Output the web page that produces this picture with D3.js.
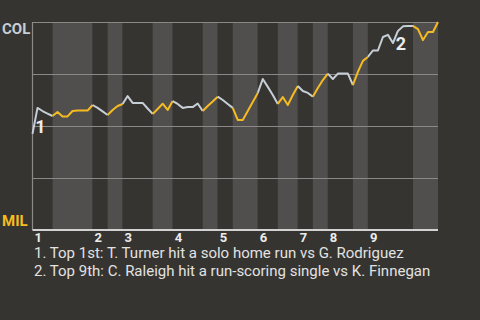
<!DOCTYPE html>
<html>
<head>
<meta charset="utf-8">
<script src="https://cdn.jsdelivr.net/npm/d3@7"></script>
<style>
  body { margin: 0; background: #363430; }
  svg { display: block; font-family: Roboto, sans-serif; }
</style>
</head>
<body>
<div id="chart"></div>
<script>
// plate appearances per half inning (top 1st, bottom 1st, ...)
const halfInningPAs = [4, 8, 3, 3, 6, 4, 6, 3, 3, 5, 4, 4, 3, 3, 5, 3, 9, 5];
const innings = ["1", "2", "3", "4", "5", "6", "7", "8", "9"];
// COL win probability after each plate appearance
const winProb = [
  0.462, 0.587, 0.572, 0.560, 0.548, 0.567, 0.546, 0.546, 0.572, 0.574,
  0.574, 0.574, 0.601, 0.587, 0.570, 0.553, 0.577, 0.596, 0.606, 0.644,
  0.611, 0.611, 0.611, 0.584, 0.558, 0.582, 0.607, 0.577, 0.620, 0.606,
  0.587, 0.591, 0.591, 0.608, 0.572, 0.596, 0.618, 0.641, 0.625, 0.606,
  0.587, 0.529, 0.529, 0.572, 0.615, 0.659, 0.726, 0.688, 0.649, 0.606,
  0.639, 0.601, 0.649, 0.692, 0.668, 0.659, 0.641, 0.683, 0.721, 0.752,
  0.726, 0.752, 0.752, 0.752, 0.697, 0.760, 0.813, 0.832, 0.863, 0.863,
  0.928, 0.938, 0.899, 0.957, 0.979, 0.981, 0.981, 0.966, 0.913, 0.952,
  0.952, 1.0
];
const teams = ["COL", "MIL"];
const eventIdx = [1, 70];
const eventLabels = ["1", "2"];
const notes = [
  "1. Top 1st: T. Turner hit a solo home run vs G. Rodriguez",
  "2. Top 9th: C. Raleigh hit a run-scoring single vs K. Finnegan"
];

const w = 480, h = 320;
const margin = ({ top: 22, right: 42, bottom: 90, left: 32.5 });
const colColor = "#c6ced6", milColor = "#f7bb22";

const svg = d3.select("#chart").append("svg")
  .attr("width", w).attr("height", h)
  .attr("viewBox", [0, 0, w, h]);

const nPA = d3.sum(halfInningPAs);
const x = d3.scaleLinear().domain([0, nPA]).range([margin.left, w - margin.right]);
const y = d3.scaleLinear().domain([0, 1]).range([h - margin.bottom, margin.top]);

// half inning spans
let start = 0;
const halves = halfInningPAs.map((n, i) => {
  const d = { i, s: start, e: start + n };
  start += n;
  return d;
});

svg.append("g")
  .selectAll("rect")
  .data(halves)
  .join("rect")
  .attr("x", d => x(d.s))
  .attr("width", d => x(d.e) - x(d.s))
  .attr("y", y(1))
  .attr("height", y(0) - y(1))
  .attr("fill", d => d.i % 2 ? "#504f4d" : "#363430");

// grid
svg.append("g")
  .attr("transform", `translate(${margin.left},0)`)
  .call(d3.axisLeft(y).tickValues([0.25, 0.5, 0.75, 1]).tickSize(-(x(nPA) - x(0))).tickFormat(""))
  .call(g => g.select(".domain").remove())
  .call(g => g.selectAll("line").attr("stroke", "#8b8987").attr("stroke-width", 1.2));

svg.append("line")
  .attr("x1", x(0)).attr("x2", x(0))
  .attr("y1", y(1)).attr("y2", y(0))
  .attr("stroke", "#8b8987").attr("stroke-width", 1.2);

svg.append("line")
  .attr("x1", x(0)).attr("x2", x(nPA))
  .attr("y1", y(0)).attr("y2", y(0))
  .attr("stroke", "#d2d2d2").attr("stroke-width", 2);

// inning labels at the start of each top half
svg.append("g")
  .selectAll("text")
  .data(innings)
  .join("text")
  .attr("x", (d, i) => x(halves[i * 2].s) + 2)
  .attr("y", 242)
  .attr("fill", "#ececec")
  .attr("font-size", 13)
  .attr("font-weight", "bold")
  .text(d => d);

// win probability line, coloured by batting team
const line = d3.line().x(d => x(d)).y(d => y(winProb[d]));
svg.append("g")
  .selectAll("path")
  .data(halves)
  .join("path")
  .attr("d", d => line(d3.range(d.s, d.e + 1)))
  .attr("fill", "none")
  .attr("stroke", d => d.i % 2 ? milColor : colColor)
  .attr("stroke-width", 2)
  .attr("stroke-linejoin", "round");

// event markers
const labelOffset = [[3, 25], [18, 13]];
svg.append("g")
  .selectAll("text")
  .data(eventLabels)
  .join("text")
  .attr("x", (d, i) => x(eventIdx[i]) + labelOffset[i][0])
  .attr("y", (d, i) => y(winProb[eventIdx[i]]) + labelOffset[i][1])
  .attr("text-anchor", "middle")
  .attr("fill", "#ececec")
  .attr("font-size", 18)
  .attr("font-weight", "bold")
  .text(d => d);

// team labels
svg.append("text")
  .attr("x", 2).attr("y", 33.5)
  .attr("fill", colColor)
  .attr("font-size", 15).attr("font-weight", "bold")
  .text(teams[0]);

svg.append("text")
  .attr("x", 2).attr("y", 225.5)
  .attr("fill", milColor)
  .attr("font-size", 15).attr("font-weight", "bold")
  .text(teams[1]);

// notes
svg.append("g")
  .selectAll("text")
  .data(notes)
  .join("text")
  .attr("x", 34)
  .attr("y", (d, i) => 258 + i * 17.5)
  .attr("fill", "#e2e2e2")
  .attr("font-size", 15)
  .text(d => d);
</script>
</body>
</html>
